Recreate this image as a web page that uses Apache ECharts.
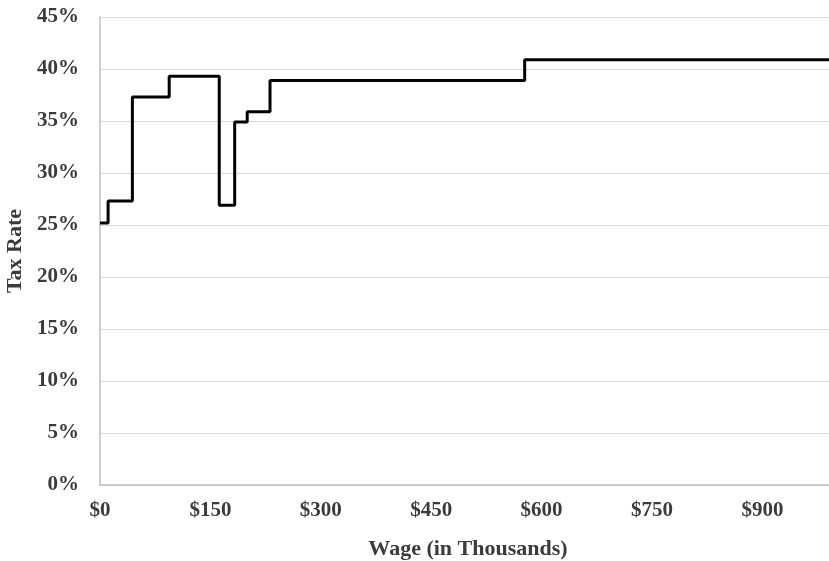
<!DOCTYPE html>
<html>
<head>
<meta charset="utf-8">
<script src="https://cdn.jsdelivr.net/npm/echarts@6/dist/echarts.min.js"></script>
<style>
  html, body { margin: 0; padding: 0; background: #fff; }
  #chart { width: 829px; height: 561px; }
</style>
</head>
<body>
<div id="chart"></div>
<script>
// wage (thousands) where each bracket starts, and the rate from there on (%)
const wages = [0, 11, 44, 94, 162, 183, 200, 231, 577, 1000];
const rates = [25.2, 27.3, 37.3, 39.3, 26.9, 34.9, 35.9, 38.9, 40.9, 40.9];

const xTitle = 'Wage (in Thousands)';
const yTitle = 'Tax Rate';

const labelFont = {
  fontFamily: 'Liberation Serif',
  fontWeight: 'bold',
  fontSize: 21,
  color: '#3b3b3b',
};
const titleFont = { ...labelFont, fontSize: 22 };

const chart = echarts.init(document.getElementById('chart'));

chart.setOption({
  animation: false,
  grid: {
    left: 100,
    right: -7,
    top: 17,
    bottom: 76,
    outerBoundsMode: 'none',
  },
  xAxis: {
    type: 'value',
    min: 0,
    max: 1000,
    interval: 150,
    name: xTitle,
    nameLocation: 'middle',
    nameGap: 53,
    nameTextStyle: titleFont,
    axisLine: { show: true, lineStyle: { color: '#bfbfbf', width: 1.5 } },
    axisTick: { show: false },
    splitLine: { show: false },
    axisLabel: {
      ...labelFont,
      margin: 15,
      showMaxLabel: false,
      formatter: (v) => '$' + v,
    },
  },
  yAxis: {
    type: 'value',
    min: 0,
    max: 45,
    interval: 5,
    name: yTitle,
    nameLocation: 'middle',
    nameGap: 73,
    nameTextStyle: titleFont,
    axisLine: { show: true, lineStyle: { color: '#bfbfbf', width: 1.5 } },
    axisTick: { show: false },
    splitLine: { lineStyle: { color: '#d9d9d9', width: 1.2 } },
    axisLabel: {
      ...labelFont,
      margin: 21,
      formatter: '{value}%',
    },
  },
  series: [
    {
      type: 'line',
      step: 'end',
      data: wages.map((w, i) => [w, rates[i]]),
      symbol: 'none',
      lineStyle: { color: '#000', width: 3 },
    },
  ],
});
</script>
</body>
</html>
